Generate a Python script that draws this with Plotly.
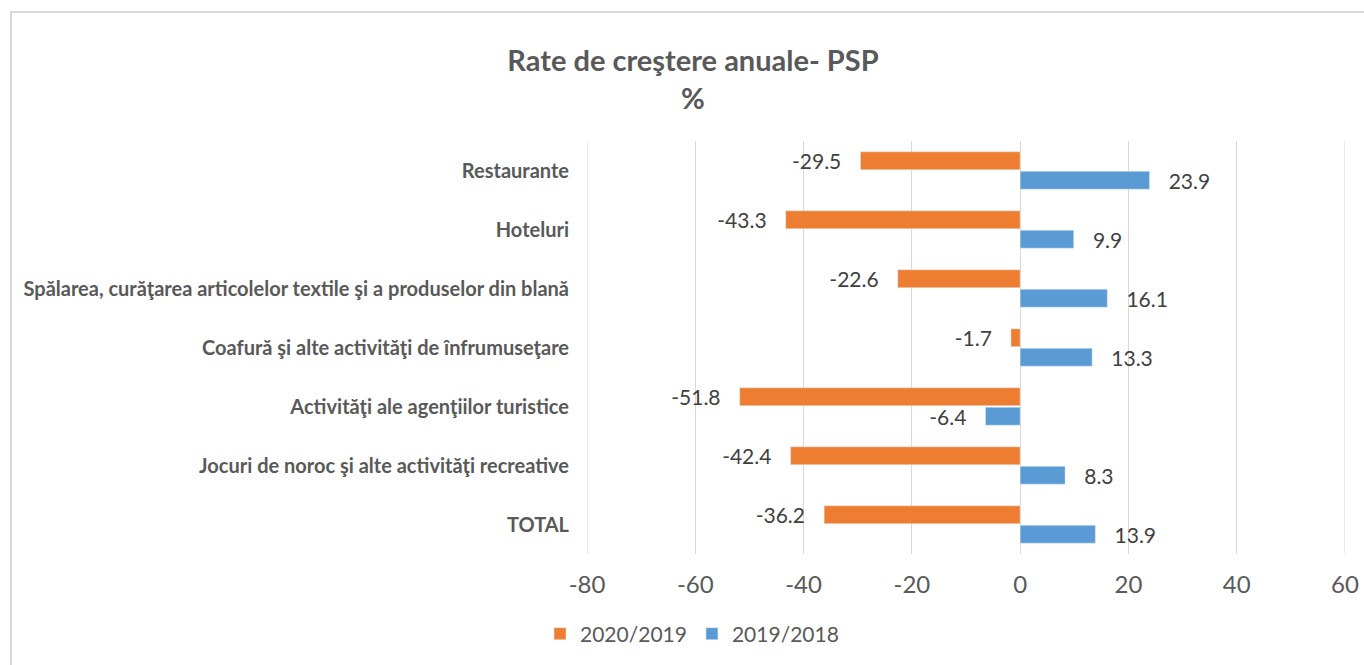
import plotly.graph_objects as go

categories = [
    "Restaurante",
    "Hoteluri",
    "Spălarea, curăţarea articolelor textile şi a produselor din blană",
    "Coafură şi alte activităţi de înfrumuseţare",
    "Activităţi ale agenţiilor turistice",
    "Jocuri de noroc şi alte activităţi recreative",
    "TOTAL",
]
v_2020_2019 = [-29.5, -43.3, -22.6, -1.7, -51.8, -42.4, -36.2]
v_2019_2018 = [23.9, 9.9, 16.1, 13.3, -6.4, 8.3, 13.9]
x_ticks = [-80, -60, -40, -20, 0, 20, 40, 60]

FONT = "Lato, 'Open Sans', sans-serif"
PAD = "\u00a0\u00a0\u00a0"


def label(v):
    s = f"{v:.1f}"
    return s + PAD if v < 0 else PAD + s


fig = go.Figure()
for name, vals, col in [("2020/2019", v_2020_2019, "#ED7D31"),
                        ("2019/2018", v_2019_2018, "#5B9BD5")]:
    fig.add_trace(go.Bar(
        y=categories, x=vals, orientation="h", name=name,
        marker=dict(color=col),
        text=[label(v) for v in vals], textposition="outside",
        constraintext="none",
        textfont=dict(size=21, color="#404040", family=FONT), cliponaxis=False,
    ))

L, R, T, B = 587, 1345, 141, 554
W, H = 1364, 665
pw, ph = R - L, B - T

edge_lines = [dict(type="line", xref="x", yref="paper", x0=xv, x1=xv, y0=0, y1=1,
                   line=dict(color="#D9D9D9", width=1), layer="below")
              for xv in (x_ticks[0], x_ticks[-1])]

fig.update_layout(
    width=W, height=H, autosize=False,
    margin=dict(l=L, r=W - R, t=T, b=H - B, autoexpand=False),
    paper_bgcolor="white", plot_bgcolor="white",
    barmode="group", bargap=0.34, bargroupgap=0.08,
    title=dict(text="<b>Rate de creştere anuale- PSP</b><br><b>%</b>",
               x=693 / W, xanchor="center", y=1 - 71 / H, yanchor="middle",
               font=dict(family=FONT, size=29, color="#595959")),
    font=dict(family=FONT, color="#595959"),
    xaxis=dict(range=[x_ticks[0], x_ticks[-1]], tickvals=x_ticks,
               ticktext=[str(t) for t in x_ticks], automargin=False,
               showgrid=True, gridcolor="#D9D9D9", ticklabelstandoff=14,
               gridwidth=1, zeroline=False, tickfont=dict(size=24, color="#595959"),
               ticks="", showline=False),
    yaxis=dict(autorange="reversed", tickfont=dict(size=20, color="#595959"),
               ticks="", showline=False, showgrid=False, ticklabelstandoff=17,
               automargin=False,
               tickvals=categories, ticktext=[f"<b>{c}</b>" for c in categories]),
    legend=dict(orientation="h", x=(692 - L) / pw, xanchor="center",
                y=(B - 634) / ph, yanchor="middle",
                font=dict(size=21, color="#595959"), itemwidth=30),
    shapes=[dict(type="rect", xref="paper", yref="paper",
                 x0=(11 - L) / pw, x1=(1420 - L) / pw,
                 y0=(B - 720) / ph, y1=(B - 12) / ph,
                 line=dict(color="#D9D9D9", width=2), layer="below")] + edge_lines,
)

fig.write_html("out.html", config={"displayModeBar": False, "responsive": False},
               post_script="document.body.style.margin='0';document.body.style.overflow='hidden';")
